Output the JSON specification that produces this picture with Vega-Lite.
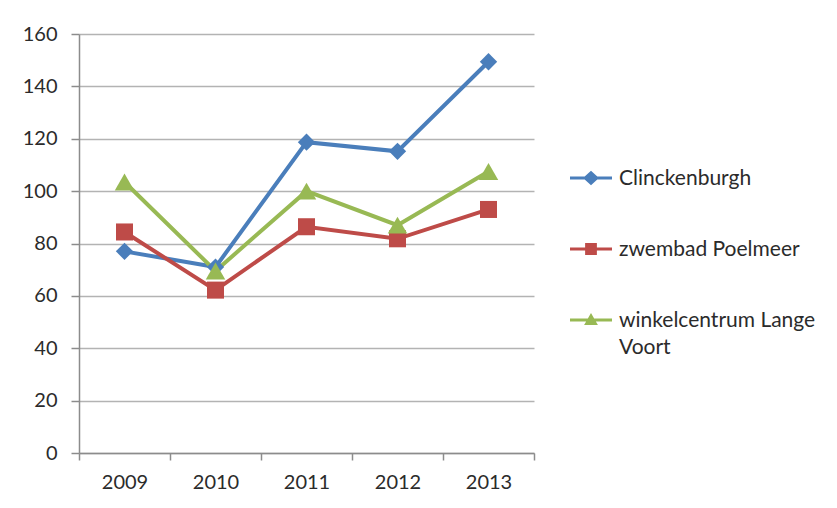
{
  "$schema": "https://vega.github.io/schema/vega-lite/v6.json",
  "width": 455,
  "height": 419,
  "autosize": {"type": "none"},
  "padding": {"left": 79, "top": 34, "right": 303, "bottom": 55},
  "background": "white",
  "config": {
    "view": {"stroke": null},
    "font": "Lato",
    "axis": {
      "labelFont": "Lato",
      "labelFontSize": 20,
      "labelColor": "#2b2b2b",
      "domainColor": "#8c8c8c",
      "tickColor": "#8c8c8c",
      "gridColor": "#b3b3b3",
      "domainWidth": 1.5,
      "tickWidth": 1.5,
      "gridWidth": 1.5,
      "title": null
    }
  },
  "data": {
    "values": [
      {"year": "2009", "series": "Clinckenburgh", "value": 77},
      {"year": "2010", "series": "Clinckenburgh", "value": 71},
      {"year": "2011", "series": "Clinckenburgh", "value": 118.7},
      {"year": "2012", "series": "Clinckenburgh", "value": 115.2},
      {"year": "2013", "series": "Clinckenburgh", "value": 149.4},
      {"year": "2009", "series": "zwembad Poelmeer", "value": 84.4},
      {"year": "2010", "series": "zwembad Poelmeer", "value": 62.2},
      {"year": "2011", "series": "zwembad Poelmeer", "value": 86.4},
      {"year": "2012", "series": "zwembad Poelmeer", "value": 81.8},
      {"year": "2013", "series": "zwembad Poelmeer", "value": 93},
      {"year": "2009", "series": "winkelcentrum Lange Voort", "value": 103.5},
      {"year": "2010", "series": "winkelcentrum Lange Voort", "value": 69.5},
      {"year": "2011", "series": "winkelcentrum Lange Voort", "value": 100},
      {"year": "2012", "series": "winkelcentrum Lange Voort", "value": 87},
      {"year": "2013", "series": "winkelcentrum Lange Voort", "value": 107.5}
    ]
  },
  "encoding": {
    "x": {
      "field": "year",
      "type": "ordinal",
      "scale": {"type": "band", "paddingInner": 0, "paddingOuter": 0},
      "axis": {
        "labelAngle": 0,
        "tickBand": "extent",
        "tickSize": 7,
        "labelPadding": 12,
        "grid": false
      }
    },
    "y": {
      "field": "value",
      "type": "quantitative",
      "scale": {"domain": [0, 160], "nice": false},
      "axis": {
        "values": [0, 20, 40, 60, 80, 100, 120, 140, 160],
        "tickSize": 8,
        "labelPadding": 14,
        "grid": true
      }
    },
    "color": {
      "field": "series",
      "type": "nominal",
      "sort": ["Clinckenburgh", "zwembad Poelmeer", "winkelcentrum Lange Voort"],
      "scale": {
        "domain": ["Clinckenburgh", "zwembad Poelmeer", "winkelcentrum Lange Voort"],
        "range": ["#4a7ebb", "#be4b48", "#98b954"]
      },
      "legend": {
        "title": null,
        "orient": "none",
        "legendX": 491,
        "legendY": 123,
        "padding": 0,
        "symbolSize": 1764,
        "symbolStrokeWidth": 0,
        "labelFont": "Lato",
        "labelFontSize": 21,
        "labelColor": "#2b2b2b",
        "labelOffset": 7,
        "labelLimit": 300,
        "labelBaseline": "alphabetic",
        "rowPadding": 39,
        "labelExpr": "datum.label == 'winkelcentrum Lange Voort' ? ['winkelcentrum Lange', 'Voort'] : datum.label",
        "encode": {
          "symbols": {
            "update": {
              "shape": {"signal": "datum.value == 'Clinckenburgh' ? 'M-1,-0.07H-0.3L0,-0.34L0.3,-0.07H1V0.07H0.3L0,0.34L-0.3,0.07H-1Z' : datum.value == 'zwembad Poelmeer' ? 'M-1,-0.07H-0.28V-0.28H0.28V-0.07H1V0.07H0.28V0.28H-0.28V0.07H-1Z' : 'M-1,-0.07H-0.15L0,-0.33L0.15,-0.07H1V0.07H0.23L0.33,0.24H-0.33L-0.23,0.07H-1Z'"},
              "fill": {"signal": "scale('color', datum.value)"},
              "fillOpacity": {"value": 1},
              "opacity": {"value": 1},
              "strokeWidth": {"value": 0}
            }
          },
          "labels": {
            "update": {"dy": {"value": 7}, "lineHeight": {"value": 27}}
          }
        }
      }
    }
  },
  "layer": [
    {
      "mark": {"type": "line", "strokeWidth": 4}
    },
    {
      "transform": [{"filter": "datum.series == 'Clinckenburgh'"}],
      "mark": {"type": "point", "filled": true, "opacity": 1, "shape": "diamond", "size": 300}
    },
    {
      "transform": [{"filter": "datum.series == 'zwembad Poelmeer'"}],
      "mark": {"type": "point", "filled": true, "opacity": 1, "shape": "square", "size": 290}
    },
    {
      "transform": [{"filter": "datum.series == 'winkelcentrum Lange Voort'"}],
      "mark": {"type": "point", "filled": true, "opacity": 1, "shape": "triangle-up", "size": 380}
    }
  ]
}
